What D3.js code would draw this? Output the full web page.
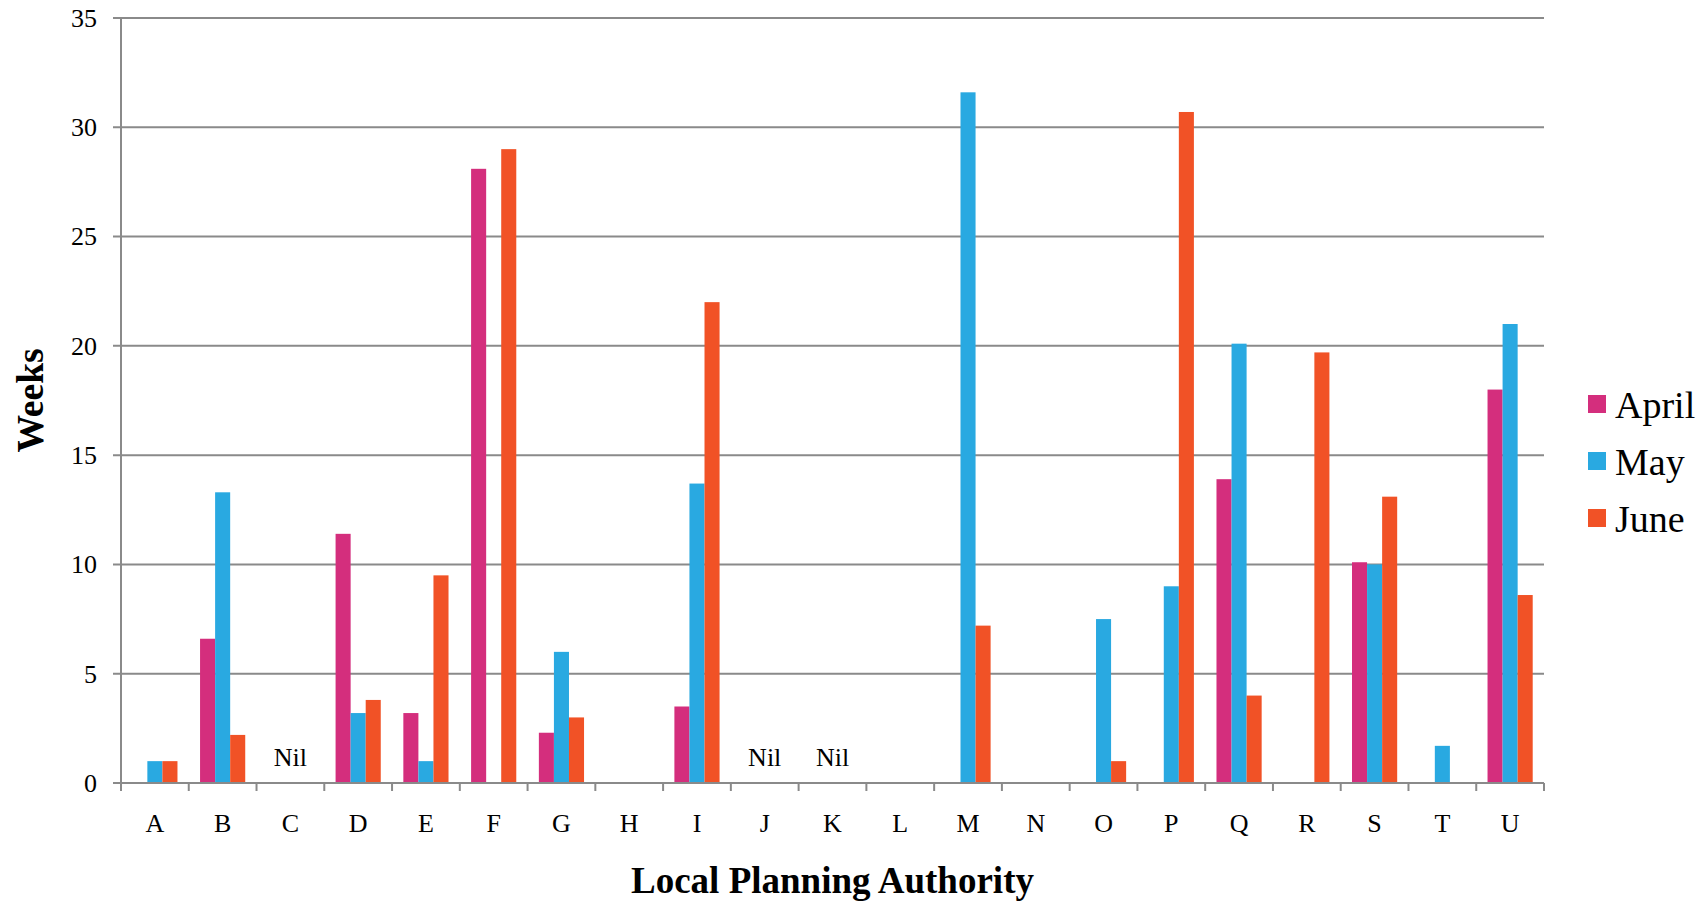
<!DOCTYPE html>
<html>
<head>
<meta charset="utf-8">
<script src="https://cdn.jsdelivr.net/npm/d3@7"></script>
<style>
  html, body { margin: 0; padding: 0; background: #fff; }
  svg { display: block; font-family: "Liberation Serif", "Times New Roman", serif; }
  svg text { font-family: "Liberation Serif", "Times New Roman", serif; }
</style>
</head>
<body>
<svg id="chart" width="1706" height="901"></svg>
<script>
const categories = ["A","B","C","D","E","F","G","H","I","J","K","L","M","N","O","P","Q","R","S","T","U"];
const seriesNames = ["April","May","June"];
const april = [0, 6.6, 0, 11.4, 3.2, 28.1, 2.3, 0, 3.5, 0, 0, 0, 0, 0, 0, 0, 13.9, 0, 10.1, 0, 18.0];
const may   = [1.0, 13.3, 0, 3.2, 1.0, 0, 6.0, 0, 13.7, 0, 0, 0, 31.6, 0, 7.5, 9.0, 20.1, 0, 10.0, 1.7, 21.0];
const june  = [1.0, 2.2, 0, 3.8, 9.5, 29.0, 3.0, 0, 22.0, 0, 0, 0, 7.2, 0, 1.0, 30.7, 4.0, 19.7, 13.1, 0, 8.6];
const nilCategories = ["C","J","K"];
const yTicks = [0, 5, 10, 15, 20, 25, 30, 35];
const colors = ["#D42E7D", "#29A9E1", "#F15226"];

(function () {
const seriesValues = [april, may, june];
const data = categories.map((c, i) => ({
  cat: c,
  vals: seriesNames.map((s, j) => ({ series: s, value: seriesValues[j][i] }))
}));

const svg = d3.select("#chart");
const mLeft = 121, mRight = 1544, mTop = 18, mBottom = 783;
const gridColor = "#8A8A8A";

const x = d3.scaleBand().domain(categories).range([mLeft, mRight]).padding(0);
const x1 = d3.scaleBand().domain(seriesNames).range([0, x.bandwidth()]).paddingInner(0).paddingOuter(0.75);
const y = d3.scaleLinear().domain([0, 35]).range([mBottom, mTop]);
const color = d3.scaleOrdinal().domain(seriesNames).range(colors);

// gridlines
svg.append("g").selectAll("line").data(yTicks).join("line")
  .attr("x1", mLeft - 8).attr("x2", mRight)
  .attr("y1", d => y(d)).attr("y2", d => y(d))
  .attr("stroke", gridColor).attr("stroke-width", 2);

// y axis labels
const yAxis = svg.append("g").attr("transform", `translate(${mLeft},0)`)
  .call(d3.axisLeft(y).tickValues(yTicks).tickSize(0).tickPadding(24).tickFormat(d3.format("d")));
yAxis.attr("font-family", null).attr("font-size", null);
yAxis.select(".domain").remove();
yAxis.selectAll("text").attr("font-size", 26).attr("fill", "#000");

// y axis line
svg.append("line").attr("x1", mLeft).attr("x2", mLeft).attr("y1", y(35)).attr("y2", y(0) + 8)
  .attr("stroke", gridColor).attr("stroke-width", 2);

// bars
const groups = svg.append("g").selectAll("g").data(data).join("g")
  .attr("transform", d => `translate(${x(d.cat)},0)`);
groups.selectAll("rect").data(d => d.vals.filter(v => v.value > 0)).join("rect")
  .attr("x", d => x1(d.series))
  .attr("width", x1.bandwidth())
  .attr("y", d => y(d.value))
  .attr("height", d => y(0) - y(d.value))
  .attr("fill", d => color(d.series));

// x axis line
svg.append("line").attr("x1", mLeft - 8).attr("x2", mRight).attr("y1", y(0)).attr("y2", y(0))
  .attr("stroke", gridColor).attr("stroke-width", 2);

// x boundary ticks
const boundaries = categories.map(c => x(c)).concat([mRight]);
svg.append("g").selectAll("line").data(boundaries).join("line")
  .attr("x1", d => d).attr("x2", d => d)
  .attr("y1", y(0)).attr("y2", y(0) + 8)
  .attr("stroke", gridColor).attr("stroke-width", 2);

// x axis labels
const xAxis = svg.append("g").attr("transform", `translate(0,${mBottom})`)
  .call(d3.axisBottom(x).tickSize(0).tickPadding(31));
xAxis.attr("font-family", null).attr("font-size", null);
xAxis.select(".domain").remove();
xAxis.selectAll("text").attr("font-size", 26).attr("fill", "#000");

// Nil labels
svg.append("g").selectAll("text").data(nilCategories).join("text")
  .attr("x", d => x(d) + x.bandwidth() / 2)
  .attr("y", 766)
  .attr("text-anchor", "middle")
  .attr("font-size", 26)
  .text("Nil");

// axis titles
svg.append("text")
  .attr("x", (mLeft + mRight) / 2).attr("y", 893)
  .attr("text-anchor", "middle").attr("font-size", 37).attr("font-weight", "bold")
  .text("Local Planning Authority");
svg.append("text")
  .attr("transform", `translate(43,${(mTop + mBottom) / 2}) rotate(-90)`)
  .attr("text-anchor", "middle").attr("font-size", 37.5).attr("font-weight", "bold")
  .text("Weeks");

// legend
const legend = svg.append("g").selectAll("g").data(seriesNames).join("g")
  .attr("transform", (d, i) => `translate(1588,${395 + i * 57})`);
legend.append("rect").attr("width", 18).attr("height", 18).attr("fill", d => color(d));
legend.append("text").attr("x", 27).attr("y", 22.5).attr("font-size", 38).text(d => d);
})();
</script>
</body>
</html>
